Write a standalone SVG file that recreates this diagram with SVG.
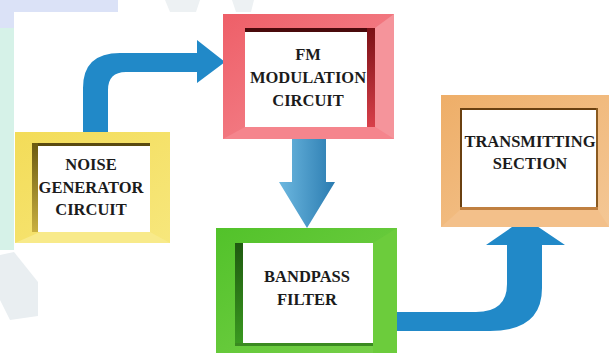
<svg xmlns="http://www.w3.org/2000/svg" width="612" height="353" viewBox="0 0 612 353">
<defs>
<style>
.lbl{font-family:"Liberation Serif","Times New Roman",serif;font-weight:bold;font-size:16.5px;fill:#1b1b1b;text-anchor:middle}
.arrow{fill:#2189c8}
</style>
<linearGradient id="gDown" x1="0" y1="0" x2="1" y2="0">
<stop offset="0" stop-color="#6db8e0"/><stop offset="1" stop-color="#2a7bb0"/>
</linearGradient>
<linearGradient id="gYel" x1="0" y1="0" x2="1" y2="1">
<stop offset="0" stop-color="#f3dc58"/><stop offset="1" stop-color="#f7e77c"/>
</linearGradient>
<linearGradient id="gRed" x1="0" y1="0" x2="1" y2="1">
<stop offset="0" stop-color="#ee5f68"/><stop offset="1" stop-color="#f58d95"/>
</linearGradient>
<linearGradient id="gGrn" x1="0" y1="0" x2="1" y2="1">
<stop offset="0" stop-color="#52c22a"/><stop offset="1" stop-color="#78d04a"/>
</linearGradient>
<linearGradient id="gOrg" x1="0" y1="0" x2="1" y2="1">
<stop offset="0" stop-color="#eeae68"/><stop offset="1" stop-color="#f4c795"/>
</linearGradient>
<linearGradient id="shY" x1="0" y1="0" x2="0" y2="1">
<stop offset="0" stop-color="#6b5a10"/><stop offset="1" stop-color="#c9b040"/>
</linearGradient>
<linearGradient id="shR" x1="0" y1="0" x2="0" y2="1">
<stop offset="0" stop-color="#7a1015"/><stop offset="1" stop-color="#d8404a"/>
</linearGradient>
<linearGradient id="shG" x1="0" y1="0" x2="0" y2="1">
<stop offset="0" stop-color="#1f5a10"/><stop offset="1" stop-color="#3a9a20"/>
</linearGradient>
</defs>

<!-- background -->
<rect x="0" y="0" width="612" height="353" fill="#ffffff"/>
<rect x="0" y="0" width="118" height="12" fill="#dbe2f7"/>
<rect x="0" y="0" width="14" height="28" fill="#dbe2f7"/>
<rect x="0" y="28" width="14" height="222" fill="#d6f2e8"/>
<path d="M165,0 L200,0 L196,12 L170,12 Z" fill="#edf1f3"/>
<path d="M232,0 L254,0 L251,12 L236,12 Z" fill="#edf1f3"/>
<path d="M0,255 L14,252 L38,282 L38,316 L10,320 L0,300 Z" fill="#e9eef1"/>

<g id="connectors">
<path class="arrow" d="M83,133 L83,88 Q83,53 120,53 L197,53 L197,40 L225,62 L197,83 L197,72 L126,72 Q108,72 108,90 L108,133 Z"/>
<path fill="url(#gDown)" d="M292,138 L326,138 L326,182 L335,182 L307,228 L279,182 L292,182 Z"/>
<path class="arrow" d="M396,312 L476,312 Q507,312 507,284 L507,245 L486,245 L525,218 L565,245 L542,245 L542,288 Q542,331 490,331 L396,331 Z"/>
</g>

<g id="noise">
<rect x="15" y="132" width="155" height="111" fill="url(#gYel)"/>
<path d="M15,243 L40,232 L150,232 L170,243 Z" fill="#f8ea8a"/>
<rect x="32" y="143" width="118" height="89" fill="#ffffff"/>
<rect x="32" y="143" width="118" height="3" fill="#5a4a10"/>
<rect x="32" y="143" width="6" height="89" fill="url(#shY)"/>
<text class="lbl" x="91" y="170">NOISE</text>
<text class="lbl" x="91" y="193">GENERATOR</text>
<text class="lbl" x="91" y="215">CIRCUIT</text>
</g>

<g id="fm">
<rect x="223" y="14" width="171" height="125" fill="url(#gRed)"/>
<path d="M375,28 L394,14 L394,139 L375,127 Z" fill="#f5949b"/>
<path d="M223,139 L245,127 L375,127 L394,139 Z" fill="#f5858d"/>
<rect x="245" y="28" width="130" height="99" fill="#ffffff"/>
<rect x="245" y="28" width="130" height="4" fill="#4a0a0c"/>
<rect x="367" y="28" width="8" height="99" fill="url(#shR)"/>
<text class="lbl" x="308" y="60">FM</text>
<text class="lbl" x="308" y="83">MODULATION</text>
<text class="lbl" x="308" y="106">CIRCUIT</text>
</g>

<g id="bandpass">
<rect x="216" y="228" width="181" height="125" fill="url(#gGrn)"/>
<path d="M373,243 L397,228 L397,353 L373,353 Z" fill="#6ccc3c"/>
<rect x="235" y="243" width="138" height="102" fill="#ffffff"/>
<rect x="235" y="243" width="8" height="102" fill="url(#shG)"/>
<rect x="235" y="343" width="138" height="3" fill="#3a8a20"/>
<text class="lbl" x="307" y="282">BANDPASS</text>
<text class="lbl" x="307" y="305">FILTER</text>
</g>

<g id="transmitting">
<rect x="441" y="95" width="168" height="132" fill="url(#gOrg)"/>
<path d="M441,227 L460,210 L598,210 L609,227 Z" fill="#f3c08a"/>
<rect x="460" y="108" width="138" height="102" fill="#ffffff"/>
<rect x="460" y="108" width="138" height="2" fill="#6a4010"/>
<rect x="460" y="108" width="2" height="102" fill="#6a4010"/>
<rect x="596" y="108" width="2" height="102" fill="#8a5a20"/>
<rect x="460" y="207" width="138" height="3" fill="#c08040"/>
<text class="lbl" x="530" y="147">TRANSMITTING</text>
<text class="lbl" x="530" y="169">SECTION</text>
</g>
</svg>
